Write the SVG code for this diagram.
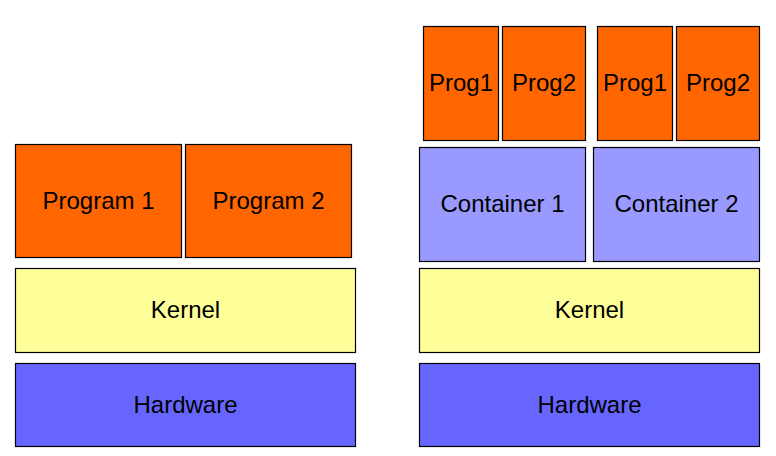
<svg xmlns="http://www.w3.org/2000/svg" width="776" height="456" viewBox="0 0 776 456">
<style>
rect{stroke:#000;stroke-width:1.2}
.p{fill:#FF6600}.c{fill:#9999FF}.k{fill:#FFFF99}.h{fill:#6666FF}
text{font-family:"Liberation Sans",Arial,sans-serif;font-size:24px;fill:#000;text-anchor:middle}
</style>
<rect x="0" y="0" width="776" height="456" fill="#fff" style="stroke:none"/>
<g id="left-program1"><rect class="p" x="15.5" y="144.5" width="166" height="113"/><text x="98.5" y="209">Program 1</text></g>
<g id="left-program2"><rect class="p" x="185.5" y="144.5" width="166" height="113"/><text x="268.5" y="209">Program 2</text></g>
<g id="left-kernel"><rect class="k" x="15.5" y="268.5" width="340" height="84"/><text x="185.5" y="318">Kernel</text></g>
<g id="left-hardware"><rect class="h" x="15.5" y="363.5" width="340" height="83"/><text x="185.5" y="413">Hardware</text></g>
<g id="c1-prog1"><rect class="p" x="423.5" y="26.5" width="75" height="114"/><text x="461" y="91">Prog1</text></g>
<g id="c1-prog2"><rect class="p" x="502.5" y="26.5" width="83" height="114"/><text x="544" y="91">Prog2</text></g>
<g id="c2-prog1"><rect class="p" x="597.5" y="26.5" width="75" height="114"/><text x="635" y="91">Prog1</text></g>
<g id="c2-prog2"><rect class="p" x="676.5" y="26.5" width="83" height="114"/><text x="718" y="91">Prog2</text></g>
<g id="container1"><rect class="c" x="419.5" y="147.5" width="166" height="114"/><text x="502.5" y="212">Container 1</text></g>
<g id="container2"><rect class="c" x="593.5" y="147.5" width="166" height="114"/><text x="676.5" y="212">Container 2</text></g>
<g id="right-kernel"><rect class="k" x="419.5" y="268.5" width="340" height="84"/><text x="589.5" y="318">Kernel</text></g>
<g id="right-hardware"><rect class="h" x="419.5" y="363.5" width="340" height="83"/><text x="589.5" y="413">Hardware</text></g>
<g id="connectors"></g>
</svg>
